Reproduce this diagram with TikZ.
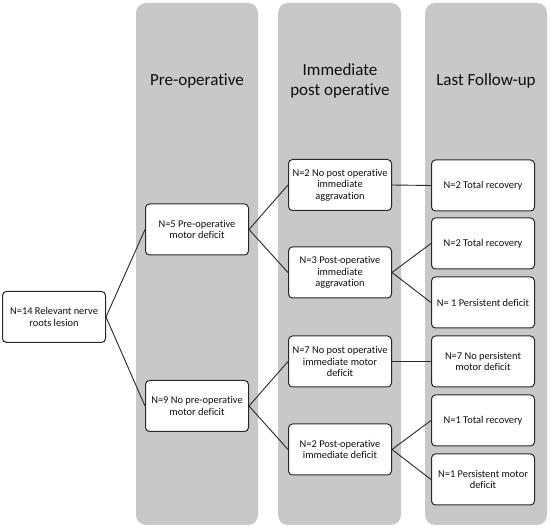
\documentclass[tikz,border=0pt]{standalone}
\usepackage{fontspec}
\setmainfont[Ligatures={NoCommon,NoRequired,NoContextual}]{Carlito}
\definecolor{colbg}{RGB}{200,200,200}
\definecolor{boxline}{RGB}{40,40,40}
\definecolor{txt}{RGB}{15,15,15}
\begin{document}
\begin{tikzpicture}[x=1pt,y=-1pt,
  stagebox/.style={draw=boxline,line width=1pt,fill=white,rounded corners=4pt,
    minimum width=103pt,minimum height=51pt,align=center,inner sep=1pt,text=txt,
    font=\fontsize{10.4}{11.4}\selectfont},
  colhead/.style={align=center,text=txt,font=\fontsize{17}{20}\selectfont},
  edge/.style={draw=boxline,line width=0.9pt}]
\useasboundingbox (0,0) rectangle (550,529);
% columns
\fill[colbg,rounded corners=10pt] (136,3) rectangle (258,525);
\fill[colbg,rounded corners=10pt] (278,3) rectangle (401,525);
\fill[colbg,rounded corners=10pt] (425,3) rectangle (547,525);
% headers
\node[colhead] (h1) at (197,81) {Pre-operative};
\node[colhead] (h2) at (340,81) {Immediate\\post operative};
\node[colhead] (h3) at (486,81) {Last Follow-up};
% nodes
\node[stagebox] (root) at (54,317) {N=14 Relevant nerve\\roots lesion};
\node[stagebox] (a) at (197,229.5) {N=5 Pre-operative\\motor deficit};
\node[stagebox] (b) at (197,406) {N=9 No pre-operative\\motor deficit};
\node[stagebox] (a1) at (340,185) {N=2 No post operative\\immediate\\aggravation};
\node[stagebox] (a2) at (340,272.5) {N=3 Post-operative\\immediate\\aggravation};
\node[stagebox] (b1) at (340,361.5) {N=7 No post operative\\immediate motor\\deficit};
\node[stagebox] (b2) at (340,449.5) {N=2 Post-operative\\immediate deficit};
\node[stagebox] (a1x) at (483,185.5) {N=2 Total recovery};
\node[stagebox] (a2x) at (483,243.5) {N=2 Total recovery};
\node[stagebox] (a2y) at (483,302.5) {N= 1 Persistent deficit};
\node[stagebox] (b1x) at (483,361.5) {N=7 No persistent\\motor deficit};
\node[stagebox] (b2x) at (483,420.5) {N=1 Total recovery};
\node[stagebox] (b2y) at (483,479.5) {N=1 Persistent motor\\deficit};
% connectors
\draw[edge] (root.east) -- (a.west);
\draw[edge] (root.east) -- (b.west);
\draw[edge] (a.east) -- (a1.west);
\draw[edge] (a.east) -- (a2.west);
\draw[edge] (b.east) -- (b1.west);
\draw[edge] (b.east) -- (b2.west);
\draw[edge] (a1.east) -- (a1x.west);
\draw[edge] (a2.east) -- (a2x.west);
\draw[edge] (a2.east) -- (a2y.west);
\draw[edge] (b1.east) -- (b1x.west);
\draw[edge] (b2.east) -- (b2x.west);
\draw[edge] (b2.east) -- (b2y.west);
\end{tikzpicture}
\end{document}
